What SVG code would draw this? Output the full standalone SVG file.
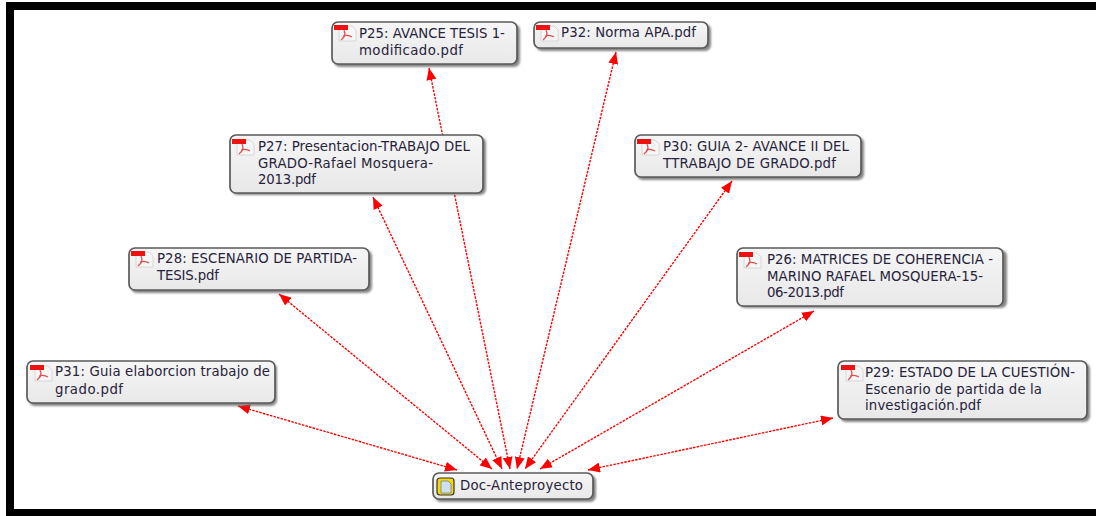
<svg xmlns="http://www.w3.org/2000/svg" width="1096" height="516" viewBox="0 0 1096 516">
<defs>
<linearGradient id="g" x1="0" y1="0" x2="0" y2="1"><stop offset="0" stop-color="#f6f6f6"/><stop offset="1" stop-color="#e8e8e8"/></linearGradient>
<filter id="b" x="-10%" y="-20%" width="120%" height="140%"><feGaussianBlur stdDeviation="1.1"/></filter>
<marker id="a" viewBox="0 0 12 10" refX="12" refY="5" markerWidth="12" markerHeight="10" markerUnits="userSpaceOnUse" orient="auto-start-reverse"><path d="M0 0L12 5L0 10Z" fill="#f00"/></marker>
<g id="pdf"><path d="M4 1H17L21 5V16H4Z" fill="#f6f6f6" stroke="#d0d0d0" stroke-width=".8"/><rect x="-1" y="0" width="14" height="5" fill="#ee1111"/><path d="M9 5C11 9 10 12 6 15M8 11C11 10 14 10 17 12" fill="none" stroke="#e45050" stroke-width="1.3"/></g>
<style>
.n{fill:url(#g);stroke:#5a5a5a;stroke-width:1.7}
.s{fill:#666;opacity:.8;filter:url(#b)}
text{font-family:"DejaVu Sans",sans-serif;font-size:13.3px;fill:#27233a}
.c{fill:none;stroke:#f00;stroke-width:1.4;stroke-dasharray:2.5 1.2;marker-start:url(#a);marker-end:url(#a)}
</style>
</defs>
<rect width="1096" height="516" fill="#fff"/>
<g fill="#000"><rect x="6" y="2" width="1090" height="8"/><rect x="6" y="509" width="1090" height="7"/><rect x="6" y="2" width="8" height="514"/></g>
<g id="connectors">
<path class="c" d="M429 68L510 469"/><path class="c" d="M616 52L517 469"/>
<path class="c" d="M373 197L502 469"/><path class="c" d="M732 181L525 469"/>
<path class="c" d="M279 294L492 469"/><path class="c" d="M814 311L540 469"/>
<path class="c" d="M238 406L457 470"/><path class="c" d="M833 418L588 470"/>
</g>
<g id="p25"><rect class="s" x="334" y="24" width="186" height="43" rx="6"/><rect class="n" x="332" y="22" width="185" height="42" rx="6"/><use href="#pdf" x="335" y="25"/><text x="359" y="38">P25: AVANCE TESIS 1-</text><text x="359" y="55" textLength="104">modificado.pdf</text></g>
<g id="p32"><rect class="s" x="536" y="24" width="175" height="27" rx="6"/><rect class="n" x="534" y="22" width="174" height="26" rx="6"/><use href="#pdf" x="537" y="25"/><text x="561" y="37" textLength="135">P32: Norma APA.pdf</text></g>
<g id="p27"><rect class="s" x="232" y="137" width="254" height="58" rx="6"/><rect class="n" x="230" y="135" width="253" height="58" rx="6"/><use href="#pdf" x="233" y="139"/><text x="258" y="151" textLength="212">P27: Presentacion-TRABAJO DEL</text><text x="258" y="168" textLength="175">GRADO-Rafael Mosquera-</text><text x="258" y="184" textLength="58">2013.pdf</text></g>
<g id="p30"><rect class="s" x="637" y="137" width="227" height="43" rx="6"/><rect class="n" x="635" y="135" width="226" height="42" rx="6"/><use href="#pdf" x="638" y="139"/><text x="663" y="151" textLength="186">P30: GUIA 2- AVANCE II DEL</text><text x="663" y="168" textLength="173">TTRABAJO DE GRADO.pdf</text></g>
<g id="p28"><rect class="s" x="131" y="250" width="241" height="43" rx="6"/><rect class="n" x="129" y="248" width="240" height="42" rx="6"/><use href="#pdf" x="132" y="251"/><text x="157" y="263" textLength="200">P28: ESCENARIO DE PARTIDA-</text><text x="157" y="280" textLength="62">TESIS.pdf</text></g>
<g id="p26"><rect class="s" x="739" y="250" width="268" height="58" rx="6"/><rect class="n" x="737" y="248" width="266" height="58" rx="6"/><use href="#pdf" x="740" y="252"/><text x="767" y="264" textLength="226">P26: MATRICES DE COHERENCIA -</text><text x="767" y="281" textLength="216">MARINO RAFAEL MOSQUERA-15-</text><text x="767" y="297" textLength="77">06-2013.pdf</text></g>
<g id="p31"><rect class="s" x="29" y="363" width="248" height="43" rx="6"/><rect class="n" x="27" y="361" width="248" height="42" rx="6"/><use href="#pdf" x="31" y="365"/><text x="55" y="376" textLength="215">P31: Guia elaborcion trabajo de</text><text x="55" y="394" textLength="68">grado.pdf</text></g>
<g id="p29"><rect class="s" x="840" y="363" width="250" height="59" rx="6"/><rect class="n" x="838" y="361" width="249" height="58" rx="6"/><use href="#pdf" x="842" y="365"/><text x="865" y="377" textLength="210">P29: ESTADO DE LA CUESTIÓN-</text><text x="865" y="394" textLength="177">Escenario de partida de la</text><text x="865" y="410" textLength="116">investigación.pdf</text></g>
<g id="doc"><rect class="s" x="435" y="475" width="161" height="27" rx="6"/><rect class="n" x="433" y="473" width="160" height="26" rx="6"/><rect x="437" y="478" width="17" height="17" rx="3" fill="#f7d900" stroke="#333" stroke-width="1.2"/><path d="M441 481H448L451 484V493H441Z" fill="#cfe0f4" stroke="#6a7fa5" stroke-width=".8"/><text x="460" y="490" textLength="123">Doc-Anteproyecto</text></g>
</svg>
